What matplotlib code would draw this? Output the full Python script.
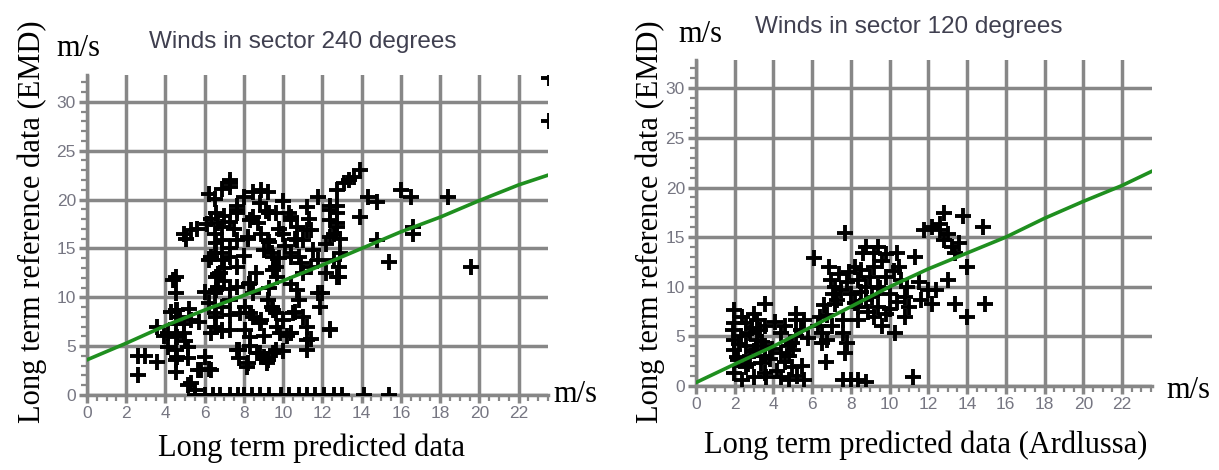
import matplotlib
matplotlib.use("Agg")
import matplotlib.pyplot as plt
from matplotlib.ticker import MultipleLocator

# scatter points (predicted, reference)
pts240 = [
    (23.56, 32.4), (23.56, 28.0),
    (2.62, 4.0), (2.94, 4.0), (2.62, 2.05), (3.56, 3.4), (3.56, 7.0),
    (4.54, 12.1), (4.54, 10.4), (4.54, 8.7), (4.54, 7.3), (4.54, 6.0), (4.54, 4.6),
    (4.54, 3.6), (4.54, 2.4), (4.15, 6.3), (4.15, 4.9), (4.93, 6.3), (4.93, 7.3),
    (5.13, 4.9), (5.13, 3.75), (4.73, 8.0), (5.32, 7.7), (4.93, 16.5), (5.32, 16.9),
    (5.03, 16.0), (5.62, 17.0), (5.72, 7.5), (5.68, 2.55), (6.2, 2.7), (5.13, 1.0),
    (5.5, 0.5), (4.3, 8.5), (3.9, 6.0), (5.2, 8.8), (5.0, 5.5), (6.0, 3.9),
    (4.4, 11.8), (4.6, 8.7), (4.6, 5.9), (4.6, 3.9), (5.8, 2.6), (5.3, 1.2), (6.3, 2.6),
    (6.2, 20.6), (6.5, 20.1), (6.9, 21.1), (7.28, 22.0), (7.28, 21.3), (6.69, 17.6),
    (6.9, 17.2), (7.28, 17.7), (6.5, 16.5), (6.9, 15.9), (6.5, 14.5), (6.9, 14.5),
    (7.28, 14.1), (7.28, 15.0), (6.69, 12.4), (6.69, 11.1), (6.5, 10.4), (7.28, 10.8),
    (7.28, 9.7), (6.5, 8.4), (6.9, 9.0), (7.28, 8.2), (6.5, 7.0), (6.9, 6.5),
    (6.3, 6.3), (7.28, 6.7), (7.67, 11.1), (7.67, 13.1), (7.67, 15.9), (7.67, 18.6),
    (7.67, 19.3), (7.77, 4.6), (7.77, 3.75), (8.16, 2.9), (6.1, 17.5), (6.3, 18.0),
    (7.0, 18.3), (7.5, 17.0), (6.2, 13.8), (7.0, 13.0), (6.0, 10.5), (6.2, 9.4),
    (7.0, 11.7), (7.3, 21.7), (6.6, 18.6), (7.65, 18.9), (6.6, 15.6), (6.3, 14.1),
    (6.9, 13.8), (6.8, 12.5), (6.6, 12.1), (6.6, 10.7), (6.6, 8.0), (6.9, 6.65),
    (7.8, 8.4), (7.65, 4.6),
    (8.26, 11.4), (8.45, 10.4), (8.06, 9.0), (8.45, 8.0), (8.06, 6.65), (8.85, 7.7),
    (8.65, 4.3), (9.04, 3.9), (8.45, 20.8), (8.85, 21.0), (9.24, 20.8), (8.45, 18.2),
    (8.85, 16.5), (9.24, 15.9), (9.43, 14.5), (9.63, 13.1), (9.63, 18.6), (9.24, 3.6),
    (9.63, 4.6), (9.43, 9.0), (9.63, 8.35), (9.24, 9.7), (10.0, 7.7), (9.82, 6.3),
    (10.2, 6.0), (10.4, 6.3), (10.3, 18.6), (10.0, 19.9), (10.4, 17.9), (10.0, 16.5),
    (10.4, 14.5), (10.8, 14.1), (10.7, 17.2), (11.2, 16.9), (11.0, 15.9), (10.4, 11.4),
    (10.8, 9.7), (11.0, 8.0), (11.4, 5.7), (11.2, 4.6), (11.8, 10.4), (11.9, 9.0),
    (12.4, 6.8), (11.4, 13.1), (11.8, 13.8), (8.2, 16.0), (8.7, 17.6), (9.1, 18.8),
    (9.8, 17.0), (10.1, 15.3), (10.6, 16.0), (11.3, 18.0), (11.5, 14.8), (8.0, 14.2),
    (9.0, 14.8), (9.8, 14.0), (11.0, 12.5), (8.6, 12.5), (9.3, 11.0), (9.0, 6.0),
    (8.3, 5.0), (10.0, 4.5), (11.2, 7.0), (10.6, 8.5), (8.8, 19.6), (8.3, 17.9),
    (9.3, 18.6), (10.4, 18.2), (11.2, 19.2), (11.4, 16.9), (10.7, 15.9), (9.3, 15.7),
    (8.2, 16.2), (9.5, 14.1), (10.4, 14.1), (10.9, 13.5), (9.5, 12.8), (8.0, 20.3),
    (8.3, 11.5), (9.7, 12.1), (8.3, 8.4), (8.3, 5.9), (8.8, 7.4), (9.5, 8.7),
    (9.7, 7.0), (10.5, 8.4), (10.4, 6.3), (11.2, 5.6), (9.5, 4.3), (8.8, 4.3),
    (8.2, 3.3), (9.2, 3.3), (10.7, 10.7),
    (12.4, 17.9), (12.75, 17.2), (12.6, 16.5), (12.75, 18.6), (12.4, 19.3), (12.75, 19.3),
    (12.75, 21.0), (12.86, 12.1), (12.86, 13.1), (12.6, 13.8), (12.9, 14.5), (13.35, 22.0),
    (13.9, 23.0), (13.9, 18.2), (14.3, 20.3), (14.8, 19.8), (14.8, 15.9), (15.4, 13.6),
    (16.0, 21.0), (16.5, 20.3), (16.6, 17.2), (16.6, 16.5), (18.4, 20.3), (19.6, 13.1),
    (11.8, 20.3), (12.2, 15.5), (12.9, 16.0), (12.4, 18.9), (12.75, 17.6), (12.4, 16.2),
    (12.75, 12.1), (13.1, 21.7), (13.6, 22.3), (12.2, 12.5), (12.0, 10.4), (12.4, 6.65),
    (5.5, 0.05), (6.0, 0.05), (6.4, 0.05), (6.8, 0.05), (7.3, 0.05), (7.7, 0.05),
    (8.0, 0.05), (8.4, 0.05), (8.8, 0.05), (9.3, 0.05), (9.9, 0.05), (10.3, 0.05),
    (10.8, 0.05), (11.2, 0.05), (11.6, 0.05), (12.1, 0.05), (12.6, 0.05), (13.0, 0.05),
    (14.1, 0.05), (15.4, 0.05),
]

pts120 = [
    (1.97, 7.66), (1.97, 6.3), (1.97, 4.6), (1.97, 3.6), (2.17, 2.6), (1.97, 1.3),
    (2.37, 0.6), (2.57, 6.3), (2.77, 5.3), (2.57, 4.0), (2.77, 3.0), (2.57, 1.95),
    (2.97, 0.9), (2.97, 7.3), (3.17, 6.65), (3.17, 4.6), (3.17, 3.6), (3.37, 2.3),
    (3.57, 1.3), (3.57, 8.3), (3.57, 6.0), (3.57, 4.0), (3.57, 3.0), (2.3, 5.0),
    (2.7, 2.2), (3.0, 3.5), (3.3, 5.6), (3.8, 2.7), (2.1, 2.9), (3.6, 0.9), (1.9, 5.6),
    (2.4, 7.0), (2.9, 5.8), (3.4, 4.4), (3.9, 3.7), (2.2, 4.2), (4.1, 6.4),
    (4.38, 3.3), (4.38, 5.3), (4.58, 6.0), (4.38, 0.9), (4.78, 0.6), (4.98, 1.95),
    (4.78, 3.0), (4.78, 4.0), (5.18, 5.0), (5.18, 6.65), (5.18, 7.3), (5.58, 6.65),
    (5.58, 0.6), (4.98, 4.3), (4.2, 1.5), (4.6, 2.4), (5.0, 3.6), (5.5, 2.0),
    (5.8, 4.8), (5.2, 1.0), (5.4, 5.6),
    (6.08, 12.9), (6.39, 7.0), (6.49, 5.3), (6.49, 4.3), (6.69, 2.45), (6.79, 4.6),
    (6.79, 7.2), (6.89, 12.0), (6.99, 10.7), (7.09, 9.3), (7.19, 8.3), (7.39, 11.3),
    (7.49, 9.7), (7.59, 6.65), (7.59, 5.3), (7.69, 3.3), (7.79, 4.3), (7.69, 15.4),
    (7.59, 0.6), (7.99, 0.6), (8.39, 0.6), (8.8, 0.4), (6.3, 6.0), (7.0, 6.0),
    (7.3, 8.7), (7.8, 10.5), (6.6, 8.2), (7.2, 10.0), (7.9, 11.5),
    (7.99, 9.3), (8.19, 12.0), (8.39, 10.7), (8.39, 8.0), (8.39, 6.65), (8.8, 10.0),
    (8.8, 8.7), (8.6, 13.4), (8.8, 14.0), (9.2, 13.4), (9.4, 14.0), (9.2, 12.0),
    (9.4, 10.0), (9.4, 8.0), (9.2, 7.0), (9.6, 6.0), (9.8, 11.0), (10.0, 9.3),
    (9.8, 7.3), (10.3, 5.3), (10.4, 13.4), (10.5, 12.0), (10.6, 10.7), (10.8, 9.0),
    (11.0, 8.0), (10.8, 7.0), (11.3, 13.0), (11.2, 0.9), (11.6, 8.7), (12.0, 9.7),
    (8.5, 9.5), (9.0, 11.0), (9.6, 12.6), (10.2, 11.6), (10.0, 7.8), (8.9, 7.5),
    (11.5, 10.5), (8.2, 8.4), (9.1, 9.0), (9.5, 9.9), (10.4, 8.5), (10.9, 10.0),
    (8.5, 11.7), (9.8, 13.3),
    (11.8, 15.7), (12.2, 16.0), (12.6, 15.7), (12.8, 17.4), (12.8, 14.7), (13.2, 14.0),
    (13.4, 13.4), (13.6, 14.4), (13.0, 10.7), (12.2, 8.3), (12.4, 9.7), (13.4, 8.3),
    (13.8, 17.1), (14.0, 12.0), (14.0, 7.0), (14.8, 16.0), (14.9, 8.3), (12.6, 16.3),
    (13.0, 15.3),
]

# green regression lines
fit240_x = [0, 2, 4, 6, 8, 10, 12, 14, 16, 18, 20, 22, 23.5]
fit240_y = [3.6, 5.3, 7.1, 8.7, 10.2, 11.7, 13.3, 15.0, 16.7, 18.2, 19.9, 21.5, 22.5]
fit120_x = [0, 2, 4, 6, 8, 10, 12, 14, 16, 18, 20, 22, 23.5]
fit120_y = [0.35, 2.2, 4.0, 6.0, 8.0, 10.0, 11.8, 13.4, 15.0, 16.9, 18.6, 20.2, 21.6]

xticks = list(range(0, 23, 2))
yticks = list(range(0, 31, 5))

titles = ["Winds in sector 240 degrees", "Winds in sector 120 degrees"]
xlabels = ["Long term predicted data", "Long term predicted data (Ardlussa)"]
ylabel = "Long term reference data (EMD)"

W, H = 1219, 470
grey = "#878787"
serif = ["Liberation Serif", "DejaVu Serif"]
sans = ["Liberation Sans", "DejaVu Sans"]

fig = plt.figure(figsize=(W / 100, H / 100), dpi=100)

# axes boxes in pixels: left, right, top (ymax), bottom (y=0)
boxes = [(87, 548, 75, 395), (696, 1152, 60, 386)]
lims = [(23.5, 32.75), (23.55, 32.85)]
all_pts = [pts240, pts120]
fits = [(fit240_x, fit240_y), (fit120_x, fit120_y)]

for i in range(2):
    l, r, t, b = boxes[i]
    ax = fig.add_axes([l / W, 1 - b / H, (r - l) / W, (b - t) / H])
    ax.set_xlim(0, lims[i][0])
    ax.set_ylim(0, lims[i][1])
    ax.set_xticks(xticks)
    ax.set_yticks(yticks)
    ax.xaxis.set_minor_locator(MultipleLocator(0.5))
    ax.yaxis.set_minor_locator(MultipleLocator(1))
    ax.grid(True, which="major", color=grey, lw=2.5)
    ax.set_axisbelow(True)
    for s in ["top", "right"]:
        ax.spines[s].set_visible(False)
    for s in ["left", "bottom"]:
        ax.spines[s].set_color(grey)
        ax.spines[s].set_linewidth(2.5)
    ax.tick_params(which="major", length=6, width=2.5, color=grey,
                   labelsize=12.5, labelcolor="#767682", pad=2)
    ax.tick_params(which="minor", length=4, width=1.6, color=grey)
    for lab in ax.get_xticklabels() + ax.get_yticklabels():
        lab.set_family(sans)

    xs = [p[0] for p in all_pts[i]]
    ys = [p[1] for p in all_pts[i]]
    ax.plot(xs, ys, "+", color="black", ms=11, mew=2.8, zorder=3)
    ax.plot(fits[i][0], fits[i][1], color="#1f8f1f", lw=2.6, zorder=4)

# titles, axis labels and units
fig.text(303 / W, 1 - 42 / H, titles[0], ha="center", va="center",
         fontsize=17.5, color="#404050", family=sans)
fig.text(909 / W, 1 - 27 / H, titles[1], ha="center", va="center",
         fontsize=17.5, color="#404050", family=sans)
fig.text(32 / W, 1 - 222 / H, ylabel, rotation=90, ha="center", va="center",
         fontsize=22, family=serif)
fig.text(650 / W, 1 - 222 / H, ylabel, rotation=90, ha="center", va="center",
         fontsize=22, family=serif)
fig.text(311 / W, 1 - 448 / H, xlabels[0], ha="center", va="center",
         fontsize=22, family=serif)
fig.text(926 / W, 1 - 445 / H, xlabels[1], ha="center", va="center",
         fontsize=22, family=serif)
for x, y in [(78, 48), (700, 34), (575, 394), (1188, 390)]:
    fig.text(x / W, 1 - y / H, "m/s", ha="center", va="center",
             fontsize=22, family=serif)

fig.savefig("out.png", dpi=100)
